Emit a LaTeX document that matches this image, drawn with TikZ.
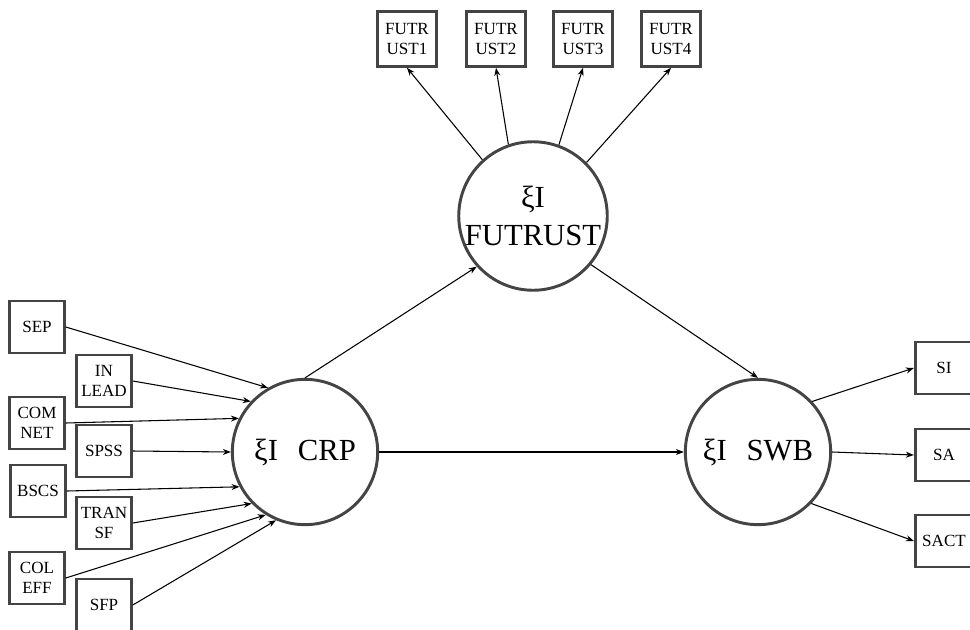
\documentclass[tikz,border=0pt]{standalone}
\usepackage{fontspec}
\setmainfont{Liberation Serif}
\usetikzlibrary{arrows.meta}

\definecolor{edge}{HTML}{444444}

\tikzset{
    latent/.style={circle, draw=edge, line width=2.2pt, minimum size=109pt, inner sep=0pt,
        align=center, font=\fontsize{23}{28.5}\selectfont},
    ind/.style={rectangle, draw=edge, line width=2.2pt, minimum width=41pt, minimum height=39pt,
        inner sep=0pt, align=center, font=\fontsize{12.8}{15}\selectfont},
    indtop/.style={ind, minimum width=44pt, minimum height=41pt},
    path/.style={-{Stealth[length=6pt,width=4.5pt]}, line width=0.8pt}
}

\begin{document}
\begin{tikzpicture}[x=0.75pt,y=-0.75pt]
        \useasboundingbox (0,0) rectangle (970,629);

        % latent variables
        \node[latent] (crp) at (305,452) {ξI\hspace{0.65em}CRP};
        \node[latent] (fut) at (533,216) {ξI\\FUTRUST};
        \node[latent] (swb) at (758,452) {ξI\hspace{0.65em}SWB};

        % indicators of FUTRUST
        \node[indtop] (fut1) at (407,39) {FUTR\\UST1};
        \node[indtop] (fut2) at (496,39) {FUTR\\UST2};
        \node[indtop] (fut3) at (583,39) {FUTR\\UST3};
        \node[indtop] (fut4) at (671,39) {FUTR\\UST4};

        % indicators of CRP
        \node[ind] (sep) at (37,327) {SEP};
        \node[ind] (inlead) at (104,381) {IN\\LEAD};
        \node[ind] (comnet) at (37,423) {COM\\NET};
        \node[ind] (spss) at (104,451) {SPSS};
        \node[ind] (bscs) at (38,491) {BSCS};
        \node[ind] (transf) at (104,523) {TRAN\\SF};
        \node[ind] (coleff) at (37,578) {COL\\EFF};
        \node[ind] (sfp) at (104,605) {SFP};

        % indicators of SWB
        \node[ind, minimum width=43pt] (si) at (944,368) {SI};
        \node[ind, minimum width=43pt] (sa) at (944,455) {SA};
        \node[ind, minimum width=43pt] (sact) at (944,541) {SACT};

        \draw[path] (fut.132) -- (fut1.south);
        \draw[path] (fut.109) -- (fut2.south);
        \draw[path] (fut.70) -- (fut3.south);
        \draw[path] (fut.45) -- (fut4.south);

        \draw[path] (sep.east) -- (crp.120);
        \draw[path] (inlead.east) -- (crp.137);
        \draw[path] (comnet.east) -- (crp.153);
        \draw[path] (spss.east) -- (crp.180);
        \draw[path] (bscs.east) -- (crp.208);
        \draw[path] (transf.east) -- (crp.224);
        \draw[path] (coleff.east) -- (crp.238);
        \draw[path] (sfp.east) -- (crp.247);

        \draw[path] (crp.north) -- (fut.222);
        \draw[path] (fut.320) -- (swb.north);
        \draw[path] (crp.east) -- (swb.west);

        \draw[path] (swb.43) -- (si.west);
        \draw[path] (swb.east) -- (sa.west);
        \draw[path] (swb.316) -- (sact.west);
    \end{tikzpicture}
\end{document}
